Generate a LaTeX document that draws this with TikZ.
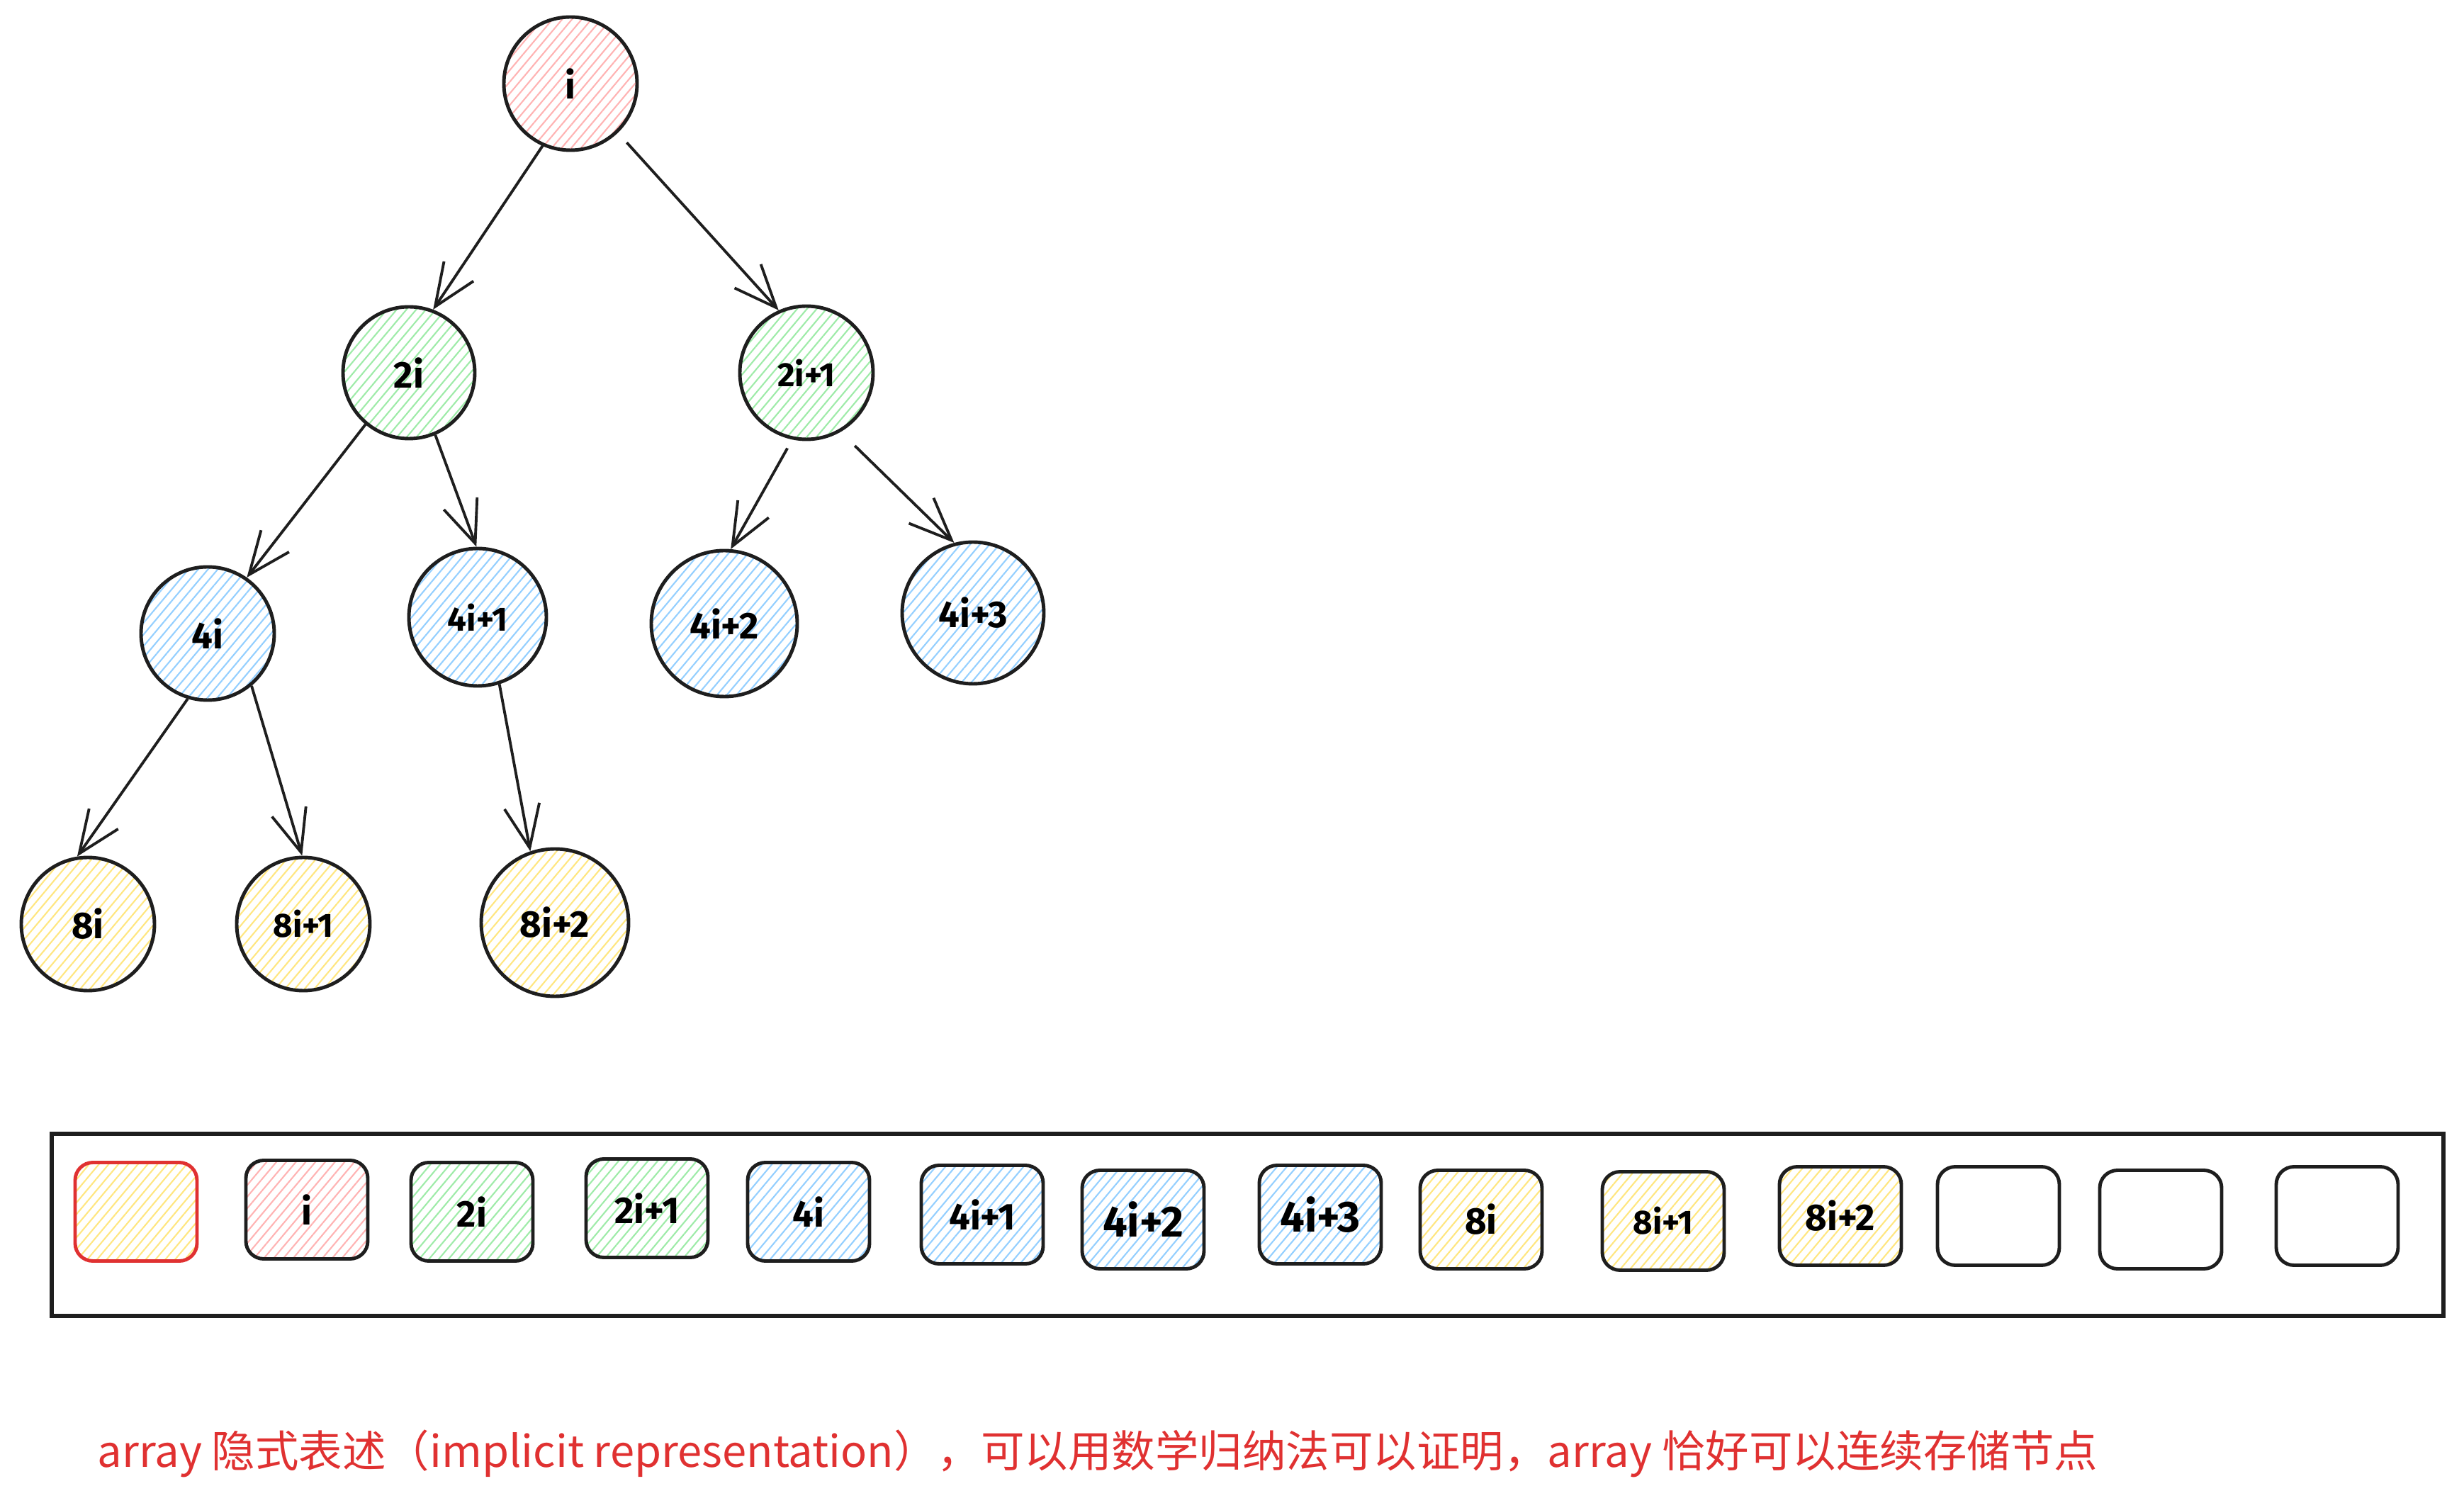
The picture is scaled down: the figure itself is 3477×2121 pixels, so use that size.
\documentclass[tikz,border=0pt]{standalone}
\usepackage{fontspec}
\setmainfont{Fira Sans}
\newfontfamily\cjk{Noto Sans CJK SC}
\usetikzlibrary{patterns.meta,arrows.meta}
\definecolor{ink}{HTML}{1E1E1E}
\definecolor{redS}{HTML}{E03131}
\definecolor{pinkH}{HTML}{FFB3B3}
\definecolor{greenH}{HTML}{9EEBA8}
\definecolor{blueH}{HTML}{94CFFF}
\definecolor{yellowH}{HTML}{FFE680}
\tikzset{
  hatch/.style={pattern={Lines[angle=50,distance=3pt,line width=0.6pt]},pattern color=#1},
  tnode/.style={circle,draw=ink,line width=1.4pt,inner sep=0pt,minimum size=#1,font=\bfseries\fontsize{15}{18}\selectfont},
  small/.style={font=\bfseries\fontsize{13.5}{16}\selectfont},
  big/.style={font=\bfseries\fontsize{17.5}{20}\selectfont},
  cell/.style={draw=ink,line width=1.4pt,rounded corners=2.5mm,minimum width=17.2mm,minimum height=13.9mm,inner sep=0pt,font=\bfseries\fontsize{15}{18}\selectfont},
  arr/.style={draw=ink,line width=1.1pt,-{Straight Barb[length=6mm,width=5mm,line width=1.1pt]}},
  frame/.style={draw=ink,line width=1.6pt},
  note/.style={anchor=west,text=redS,inner sep=0pt,font=\cjk\fontsize{17.5}{21}\selectfont}
}
\begin{document}
\begin{tikzpicture}[x=0.1mm,y=-0.1mm]
\useasboundingbox (0,0) rectangle (3477,2121);
% tree
\node[tnode=18.8mm,hatch=pinkH] (n1) at (805,118) {i};
\node[tnode=18.6mm,hatch=greenH] (n2) at (577,526) {2i};
\node[tnode=18.8mm,hatch=greenH,small] (n3) at (1138,526) {2i+1};
\node[tnode=18.8mm,hatch=blueH] (n4) at (293,894) {4i};
\node[tnode=19.4mm,hatch=blueH,small] (n5) at (674,871) {4i+1};
\node[tnode=20.6mm,hatch=blueH] (n6) at (1022,880) {4i+2};
\node[tnode=20.0mm,hatch=blueH] (n7) at (1373,865) {4i+3};
\node[tnode=18.8mm,hatch=yellowH] (n8) at (124,1304) {8i};
\node[tnode=18.8mm,hatch=yellowH,small] (n9) at (428,1304) {8i+1};
\node[tnode=20.8mm,hatch=yellowH] (n10) at (783,1302) {8i+2};
% edges
\draw[arr] (n1.246) -- (n2.69);
\draw[arr,shorten <=2mm] (n1.314) -- (n3.114);
\draw[arr] (n2.230) -- (n4.55);
\draw[arr] (n2.293) -- (n5.91);
\draw[arr,shorten <=1.4mm] (n3.258) -- (n6.85);
\draw[arr,shorten <=2.8mm] (n3.300) -- (n7.105);
\draw[arr] (n4.253) -- (n8.99);
\draw[arr] (n4.310) -- (n9.91);
\draw[arr] (n5.288) -- (n10.109);
% array
\draw[frame] (73,1600) rectangle (3448,1857);
\node[cell,draw=redS,hatch=yellowH] (c0) at (192,1710) {};
\node[cell,hatch=pinkH] (c1) at (433,1707) {i};
\node[cell,hatch=greenH] (c2) at (666,1710) {2i};
\node[cell,hatch=greenH] (c3) at (913,1705) {2i+1};
\node[cell,hatch=blueH] (c4) at (1141,1710) {4i};
\node[cell,hatch=blueH] (c5) at (1386,1714) {4i+1};
\node[cell,hatch=blueH,big] (c6) at (1613,1721) {4i+2};
\node[cell,hatch=blueH,big] (c7) at (1863,1714) {4i+3};
\node[cell,hatch=yellowH] (c8) at (2090,1721) {8i};
\node[cell,hatch=yellowH,small] (c9) at (2347,1723) {8i+1};
\node[cell,hatch=yellowH] (c10) at (2597,1716) {8i+2};
\node[cell] (c11) at (2820,1716) {};
\node[cell] (c12) at (3049,1721) {};
\node[cell] (c13) at (3298,1716) {};
% note
\node[note] (txt) at (137,2051) {array 隐式表述（implicit representation），可以用数学归纳法可以证明，array 恰好可以连续存储节点};
\end{tikzpicture}
\end{document}
